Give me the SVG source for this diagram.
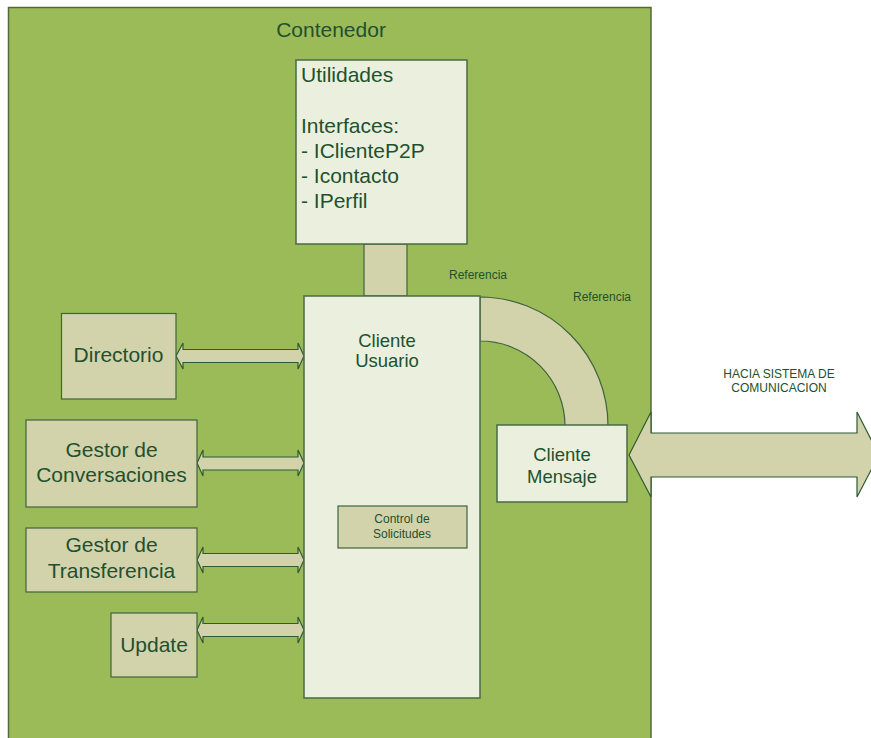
<svg xmlns="http://www.w3.org/2000/svg" width="871" height="738" viewBox="0 0 871 738">
  <style>
    .container { fill: #9bbb59; stroke: #4f6b3a; stroke-width: 1.5; }
    .light { fill: #ebf0de; stroke: #4a6b45; stroke-width: 1.5; }
    .tan { fill: #d3d3ab; stroke: #3f6340; stroke-width: 1.2; }
    .arrow { fill: #d3d3ab; stroke: #2f5a35; stroke-width: 1.2; stroke-linejoin: miter; }
    text { font-family: "Liberation Sans", Arial, sans-serif; fill: #22502f; }
    .big { font-size: 21px; }
    .mid { font-size: 18.5px; }
    .small { font-size: 12px; }
    .tiny { font-size: 12px; }
  </style>

  <rect width="871" height="738" fill="#ffffff"/>

  <!-- outer container -->
  <g id="contenedor">
    <rect class="container" x="8.5" y="7.5" width="642.5" height="740"/>
    <text class="big" x="331" y="37" text-anchor="middle">Contenedor</text>
  </g>

  <!-- connectors -->
  <g id="connectors">
    <!-- Utilidades to Cliente Usuario -->
    <rect class="tan" x="364" y="244" width="43" height="52"/>
    <!-- curved reference Cliente Usuario to Cliente Mensaje -->
    <path class="tan" d="M480,297 A128,129 0 0 1 608,426 L565,426 A85,85 0 0 0 480,341 Z"/>
    <!-- Directorio -->
    <path class="arrow" d="M176,356 L183,343 L183,349.5 L298,349.5 L298,343 L304,356 L298,369 L298,362.5 L183,362.5 L183,369 Z"/>
    <!-- Gestor de Conversaciones -->
    <path class="arrow" d="M197,463 L203,450 L203,457 L298,457 L298,450 L304,463 L298,476 L298,470 L203,470 L203,476 Z"/>
    <!-- Gestor de Transferencia -->
    <path class="arrow" d="M197,560 L203,547 L203,553.5 L298,553.5 L298,547 L304,560 L298,573 L298,566.5 L203,566.5 L203,573 Z"/>
    <!-- Update -->
    <path class="arrow" d="M197,630 L203,617 L203,623.5 L298,623.5 L298,617 L304,630 L298,643 L298,636.5 L203,636.5 L203,643 Z"/>
    <!-- towards the communication system -->
    <path class="arrow" d="M629,455 L651,412 L651,433 L857,433 L857,412 L879,455 L857,497 L857,477 L651,477 L651,497 Z"/>
  </g>

  <g id="utilidades">
    <rect class="light" x="296" y="60" width="171" height="184"/>
    <text class="big" x="301" y="82">Utilidades</text>
    <text class="big" x="301" y="133">Interfaces:</text>
    <text class="big" x="301" y="158">- IClienteP2P</text>
    <text class="big" x="301" y="183">- Icontacto</text>
    <text class="big" x="301" y="208">- IPerfil</text>
  </g>

  <g id="cliente-usuario">
    <rect class="light" x="304" y="296" width="176" height="402"/>
    <text class="mid" x="387" y="347" text-anchor="middle">Cliente</text>
    <text class="mid" x="387" y="367" text-anchor="middle">Usuario</text>
  </g>

  <g id="control-solicitudes">
    <rect class="tan" x="338" y="506" width="129" height="42"/>
    <text class="small" x="402" y="523" text-anchor="middle">Control de</text>
    <text class="small" x="402" y="538" text-anchor="middle">Solicitudes</text>
  </g>

  <g id="directorio">
    <rect class="tan" x="61.5" y="313.5" width="114.5" height="85.5"/>
    <text class="big" x="118.5" y="362" text-anchor="middle">Directorio</text>
  </g>

  <g id="gestor-conversaciones">
    <rect class="tan" x="26" y="420" width="171" height="87"/>
    <text class="big" x="111.5" y="457" text-anchor="middle">Gestor de</text>
    <text class="big" x="111.5" y="482" text-anchor="middle">Conversaciones</text>
  </g>

  <g id="gestor-transferencia">
    <rect class="tan" x="26" y="528" width="171" height="64"/>
    <text class="big" x="111.5" y="552" text-anchor="middle">Gestor de</text>
    <text class="big" x="111.5" y="578" text-anchor="middle">Transferencia</text>
  </g>

  <g id="update">
    <rect class="tan" x="111" y="613" width="86" height="64"/>
    <text class="big" x="154" y="652" text-anchor="middle">Update</text>
  </g>

  <g id="cliente-mensaje">
    <rect class="light" x="497" y="425" width="130" height="77"/>
    <text class="mid" x="562" y="461" text-anchor="middle">Cliente</text>
    <text class="mid" x="562" y="483" text-anchor="middle">Mensaje</text>
  </g>

  <g id="labels">
    <text class="small" x="449" y="279">Referencia</text>
    <text class="small" x="573" y="301">Referencia</text>
    <text class="tiny" x="779" y="378" text-anchor="middle">HACIA SISTEMA DE</text>
    <text class="tiny" x="779" y="392" text-anchor="middle">COMUNICACION</text>
  </g>
</svg>
